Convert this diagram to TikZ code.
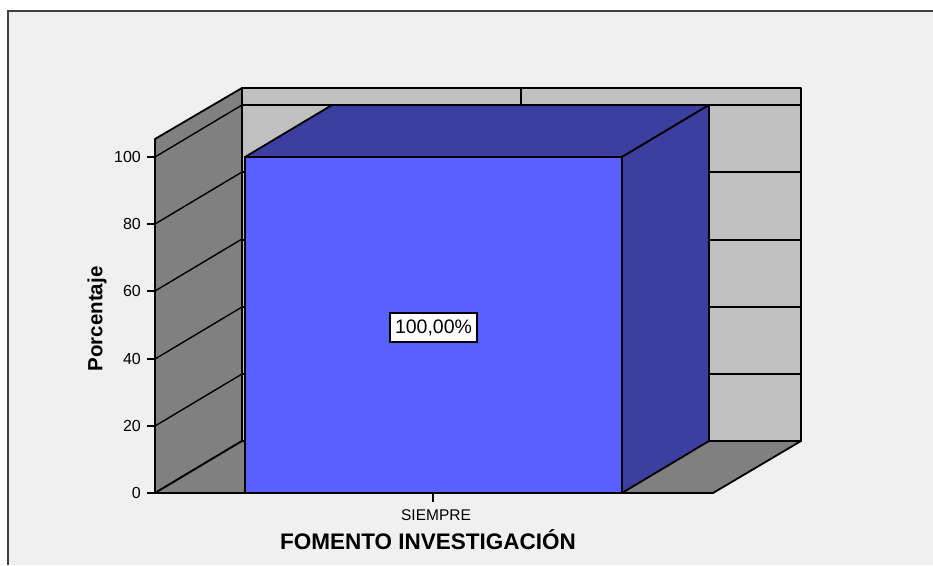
\documentclass[tikz,border=0pt]{standalone}
\usepackage{fontspec}
\setmainfont{Liberation Sans}
\definecolor{bgc}{HTML}{F0F0F0}
\definecolor{lgray}{HTML}{C0C0C0}
\definecolor{dgray}{HTML}{808080}
\definecolor{barfront}{HTML}{5A5FFF}
\definecolor{barside}{HTML}{3C3FA0}
\definecolor{framec}{HTML}{404040}
\tikzset{
  edge/.style={draw=black, line width=1.8pt, line join=round},
  grid/.style={draw=black, line width=1.4pt},
  ticklab/.style={anchor=east, inner sep=0pt, font=\fontsize{16}{18}\selectfont},
}
\begin{document}
\begin{tikzpicture}[x=1pt,y=-1pt]
\useasboundingbox (0,0) rectangle (933,565);
\fill[white] (0,0) rectangle (933,565);
\fill[bgc] (8,11) rectangle (933,565);
\draw[framec, line width=2.2pt] (8,565) -- (8,11) -- (933,11);
% back wall
\filldraw[fill=lgray, edge] (242,88) rectangle (801,441);
\draw[grid] (242,105) -- (801,105);
\draw[grid] (521,88) -- (521,105);
\foreach \yy in {172,240,307,374} \draw[grid] (242,\yy) -- (801,\yy);
% left wall
\filldraw[fill=dgray, edge] (155,139) -- (242,88) -- (242,441) -- (155,493) -- cycle;
\foreach \yy in {157,224,291,359,426} \draw[grid] (155,\yy) -- (242,\yy-52);
% floor
\filldraw[fill=dgray, edge] (155,493) -- (242,441) -- (801,441) -- (713,493) -- cycle;
% bar
\filldraw[fill=barfront, edge] (245,157) rectangle (622,493);
\filldraw[fill=barside, edge] (245,157) -- (332,105) -- (709,105) -- (622,157) -- cycle;
\filldraw[fill=barside, edge] (622,157) -- (709,105) -- (709,441) -- (622,493) -- cycle;
% axis
\draw[edge] (155,139) -- (155,493);
\draw[edge] (155,493) -- (713,493);
\foreach \yy/\lab in {157/100,224/80,291/60,359/40,426/20,493/0} {
  \draw[edge] (147,\yy) -- (155,\yy);
  \node[ticklab] (t\lab) at (141,\yy) {\lab};
}
\draw[edge] (433,493) -- (433,502);
\node[font=\fontsize{15.5}{18}\selectfont, inner sep=0pt] (cat) at (436,515) {SIEMPRE};
\node[draw=black, line width=1.4pt, fill=white, minimum width=87pt, minimum height=29pt, inner sep=0pt, font=\fontsize{19.5}{22}\selectfont] (val) at (433.5,327.5) {100,00\%};
\node[font=\bfseries\fontsize{22.5}{26}\selectfont, inner sep=0pt] (xt) at (428,540) {FOMENTO INVESTIGACIÓN};
\node[font=\bfseries\fontsize{20.5}{24}\selectfont, inner sep=0pt, rotate=90] (yt) at (97,319) {Porcentaje};
\end{tikzpicture}
\end{document}
